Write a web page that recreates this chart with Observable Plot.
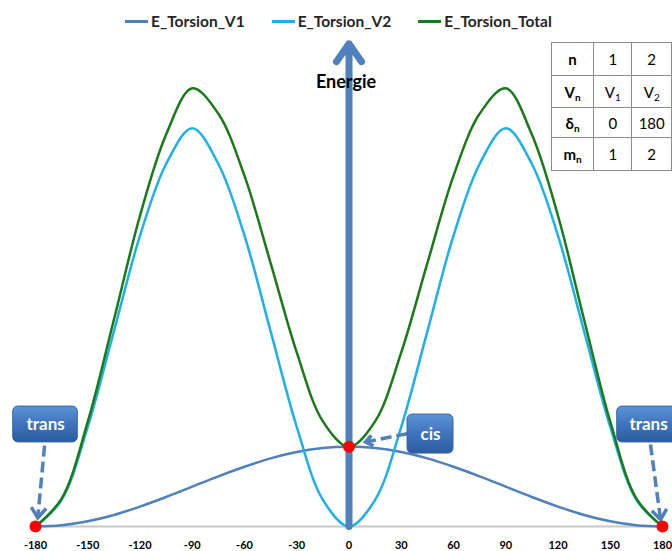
<!DOCTYPE html>
<html>
<head>
<meta charset="utf-8">
<script src="https://cdn.jsdelivr.net/npm/d3@7"></script>
<script src="https://cdn.jsdelivr.net/npm/@observablehq/plot@0.6"></script>
<style>
  html, body { margin: 0; padding: 0; background: #fff; }
  #wrap { position: relative; width: 672px; height: 551px; overflow: hidden; font-family: Lato, "Open Sans", sans-serif; }
  #legend { height: 36px; box-sizing: border-box; padding: 6px 0 0 125px; display: flex; align-items: center; gap: 27px; }
  .item { display: flex; align-items: center; gap: 3px; font-weight: bold; font-size: 15.5px; color: #262626; }
  .sw { width: 23px; height: 3px; }
  #params { position: absolute; left: 551px; top: 42px; border-collapse: collapse; table-layout: fixed; font-size: 15px; background: #fff; color: #000; }
  #params td { border: 1px solid #8c8c8c; text-align: center; padding: 0; }
  #params td.h { font-weight: bold; }
  #params sub { font-size: 10px; vertical-align: -3px; line-height: 0; }
  #chart svg { display: block; }
</style>
</head>
<body>
<div id="wrap">
  <div id="legend"></div>
  <div id="chart"></div>
  <table id="params"><colgroup><col style="width:43px"><col style="width:39px"><col style="width:40px"></colgroup><tbody></tbody></table>
</div>
<script>
// ---- data ----
const angles = [-180,-165,-150,-135,-120,-105,-90,-75,-60,-45,-30,-15,0,15,30,45,60,75,90,105,120,135,150,165,180];
const eV1    = [0,0.03,0.13,0.29,0.5,0.74,1.0,1.26,1.5,1.71,1.87,1.97,2.0,1.97,1.87,1.71,1.5,1.26,1.0,0.74,0.5,0.29,0.13,0.03,0];
const eV2    = [0,0.67,2.5,4.9,7.3,9.1,10,9.1,7.3,4.9,2.5,0.67,0,0.67,2.5,4.9,7.3,9.1,10,9.1,7.3,4.9,2.5,0.67,0];
const eTotal = [0,0.70,2.63,5.19,7.8,9.84,11.0,10.36,8.8,6.61,4.37,2.64,2.0,2.64,4.37,6.61,8.8,10.36,11.0,9.84,7.8,5.19,2.63,0.70,0];
const seriesNames = ["E_Torsion_V1", "E_Torsion_V2", "E_Torsion_Total"];
const seriesValues = [eV1, eV2, eTotal];
const xTicks = [-180,-150,-120,-90,-60,-30,0,30,60,90,120,150,180];
const keyAngles = [-180, 0, 180];           // trans, cis, trans
const axisLabel = "Energie";
const tableLabels = ["n", "V", "δ", "m"];
const tableCol1 = ["1", "V_1", "0", "1"];
const tableCol2 = ["2", "V_2", "180", "2"];

// ---- styles / layout ----
const seriesColors = ["#4f81bd", "#1fb0e6", "#1a7a1a"];
const W = 672, H = 515, mL = 35, mR = 10, mT = 0, mB = 25, yMax = 12.3;

// callout annotations (positions in data units)
const callouts = [
  {label: "trans", x1: -192.8, x2: -155.7, y1: 2.11, y2: 3.01, tx: -174.2, ty: 2.56, from: [-174.8, 2.03], to: [-178.7, 0.22]},
  {label: "trans", x1: 154, x2: 205, y1: 2.11, y2: 3.01, tx: 172, ty: 2.56, from: [173.1, 2.06], to: [178.9, 0.17]},
  {label: "cis", x1: 33.6, x2: 60, y1: 1.83, y2: 2.81, tx: 46.8, ty: 2.32, from: [33.4, 2.33], to: [9.5, 2.12]}
];

// ---- legend ----
const legend = document.getElementById("legend");
seriesNames.forEach((n, i) => {
  const it = document.createElement("div");
  it.className = "item";
  it.innerHTML = `<span class="sw" style="background:${seriesColors[i]}"></span><span>${n}</span>`;
  legend.appendChild(it);
});

// ---- table ----
const sub = s => s.includes("_") ? `${s.split("_")[0]}<sub>${s.split("_")[1]}</sub>` : s;
const tbody = document.querySelector("#params tbody");
const rowH = [33, 32, 30, 33];
tableLabels.forEach((lab, i) => {
  const tr = document.createElement("tr");
  tr.style.height = rowH[i] + "px";
  const head = i === 0 ? lab : `${lab}<sub>n</sub>`;
  tr.innerHTML = `<td class="h">${head}</td><td>${sub(tableCol1[i])}</td><td>${sub(tableCol2[i])}</td>`;
  tbody.appendChild(tr);
});

// ---- chart data ----
const rows = seriesNames.flatMap((name, s) => angles.map((a, i) => ({series: name, angle: a, energy: seriesValues[s][i]})));
const keyPoints = keyAngles.map(a => ({angle: a, energy: eTotal[angles.indexOf(a)]}));

const sx = Plot.scale({x: {domain: [-180, 180], range: [mL, W - mR]}});
const sy = Plot.scale({y: {domain: [0, yMax], range: [H - mB, mT]}});
const heads = callouts.map(c => {
  const dx = sx.apply(c.to[0]) - sx.apply(c.from[0]);
  const dy = sy.apply(c.to[1]) - sy.apply(c.from[1]);
  return {x: c.to[0], y: c.to[1], rot: Math.atan2(-dx, dy) * 180 / Math.PI, big: c.label === "trans"};
});
const chevron = {
  draw(ctx, size) {
    const r = Math.sqrt(size / Math.PI);
    ctx.moveTo(-r * 0.75, -r);
    ctx.lineTo(0, 0);
    ctx.lineTo(r * 0.75, -r);
  }
};

const plot = Plot.plot({
  width: W, height: H,
  marginLeft: mL, marginRight: mR, marginTop: mT, marginBottom: mB,
  style: {fontFamily: "Lato, 'Open Sans', sans-serif", fontWeight: "bold", fontSize: "11px", color: "#000", background: "#fff"},
  x: {domain: [-180, 180], ticks: xTicks, tickSize: 0, tickPadding: 15, label: null, tickFormat: d => String(d)},
  y: {domain: [0, yMax], axis: null},
  color: {domain: seriesNames, range: seriesColors},
  marks: [
    Plot.ruleY([0], {stroke: "#c8c8c8", strokeWidth: 2}),
    Plot.line(rows, {x: "angle", y: "energy", z: "series", stroke: "series", curve: "catmull-rom", strokeWidth: 2.5}),
    Plot.arrow([0], {x1: 0, y1: 0, x2: 0, y2: 12.12, stroke: "#4f81bd", strokeWidth: 7, headLength: 4.7, headAngle: 70}),
    Plot.text([axisLabel], {x: 0, y: 11.14, dx: -3, text: d => d, fontSize: 18, fill: "#000"}),
    Plot.link(callouts, {x1: d => d.from[0], y1: d => d.from[1], x2: d => d.to[0], y2: d => d.to[1], stroke: "#4f81bd", strokeWidth: 3.5, strokeDasharray: "11,5"}),
    Plot.dot(heads.filter(d => d.big), {x: "x", y: "y", rotate: "rot", symbol: chevron, r: 10, fill: "none", stroke: "#4f81bd", strokeWidth: 3.5}),
    Plot.dot(heads.filter(d => !d.big), {x: "x", y: "y", rotate: "rot", symbol: chevron, r: 7, fill: "none", stroke: "#4f81bd", strokeWidth: 3.5}),
    Plot.dot(keyPoints, {x: "angle", y: "energy", r: 6, fill: "#ff0000", stroke: "none"}),
    Plot.rect(callouts, {x1: "x1", x2: "x2", y1: "y1", y2: "y2", rx: 5, fill: "url(#calloutGrad)", stroke: "#3867a6", strokeWidth: 1}),
    Plot.text(callouts, {x: "tx", y: "ty", text: "label", fill: "#fff", fontSize: 17})
  ]
});
plot.insertAdjacentHTML("afterbegin",
  `<defs><linearGradient id="calloutGrad" x1="0" y1="0" x2="0" y2="1">
     <stop offset="0" stop-color="#5d93d6"/><stop offset="0.5" stop-color="#3f74bd"/><stop offset="1" stop-color="#2c5c9f"/>
   </linearGradient></defs>`);
document.getElementById("chart").appendChild(plot);
</script>
</body>
</html>
